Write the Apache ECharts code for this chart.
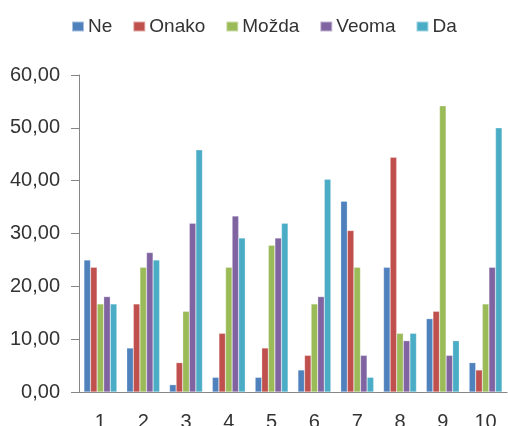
<!DOCTYPE html>
<html>
<head>
<meta charset="utf-8">
<script src="https://cdn.jsdelivr.net/npm/echarts@6/dist/echarts.min.js"></script>
<style>
  html, body { margin: 0; padding: 0; background: #fff; }
  #chart { width: 508px; height: 426px; }
</style>
</head>
<body>
<div id="chart"></div>
<script>
const categories = ["1", "2", "3", "4", "5", "6", "7", "8", "9", "10"];
const seriesNames = ["Ne", "Onako", "Možda", "Veoma", "Da"];
const colors = ["#4F81BD", "#C0504D", "#9BBB59", "#8064A2", "#4BACC6"];

const ne    = [25.00, 8.33, 1.39, 2.78, 2.78, 4.17, 36.11, 23.61, 13.89, 5.56];
const onako = [23.61, 16.67, 5.56, 11.11, 8.33, 6.94, 30.56, 44.44, 15.28, 4.17];
const mozda = [16.67, 23.61, 15.28, 23.61, 27.78, 16.67, 23.61, 11.11, 54.17, 16.67];
const veoma = [18.06, 26.39, 31.94, 33.33, 29.17, 18.06, 6.94, 9.72, 6.94, 23.61];
const da    = [16.67, 25.00, 45.83, 29.17, 31.94, 40.28, 2.78, 11.11, 9.72, 50.00];

const values = [ne, onako, mozda, veoma, da];
const font = "Liberation Sans";

const chart = echarts.init(document.getElementById("chart"));

chart.setOption({
  animation: false,
  backgroundColor: "#fff",
  color: colors,
  legend: {
    top: 12,
    left: 66,
    itemWidth: 12,
    itemHeight: 10,
    itemGap: 20,
    icon: "rect",
    textStyle: { fontFamily: font, fontSize: 19, color: "#333", padding: [0, 0, 0, -1] },
  },
  grid: { left: 79, right: 1, top: 75, bottom: 34, outerBoundsMode: "none" },
  xAxis: {
    type: "category",
    data: categories,
    axisLine: { lineStyle: { color: "#868686" } },
    axisTick: { length: 7, lineStyle: { color: "#868686" } },
    axisLabel: { fontFamily: font, fontSize: 20, color: "#333", margin: 20 },
  },
  yAxis: {
    type: "value",
    min: 0,
    max: 60,
    interval: 10,
    splitLine: { show: false },
    axisLine: { show: true, lineStyle: { color: "#868686" } },
    axisTick: { show: true, length: 8, lineStyle: { color: "#868686" } },
    axisLabel: {
      fontFamily: font,
      fontSize: 20,
      color: "#333",
      margin: 19,
      formatter: (v) => v.toFixed(2).replace(".", ","),
    },
  },
  series: seriesNames.map((name, i) => ({
    name: name,
    type: "bar",
    data: values[i],
    barGap: "0%",
    barCategoryGap: "23%",
    itemStyle: { borderColor: "rgba(255,255,255,0.5)", borderWidth: 0.5 },
  })),
});
</script>
</body>
</html>
